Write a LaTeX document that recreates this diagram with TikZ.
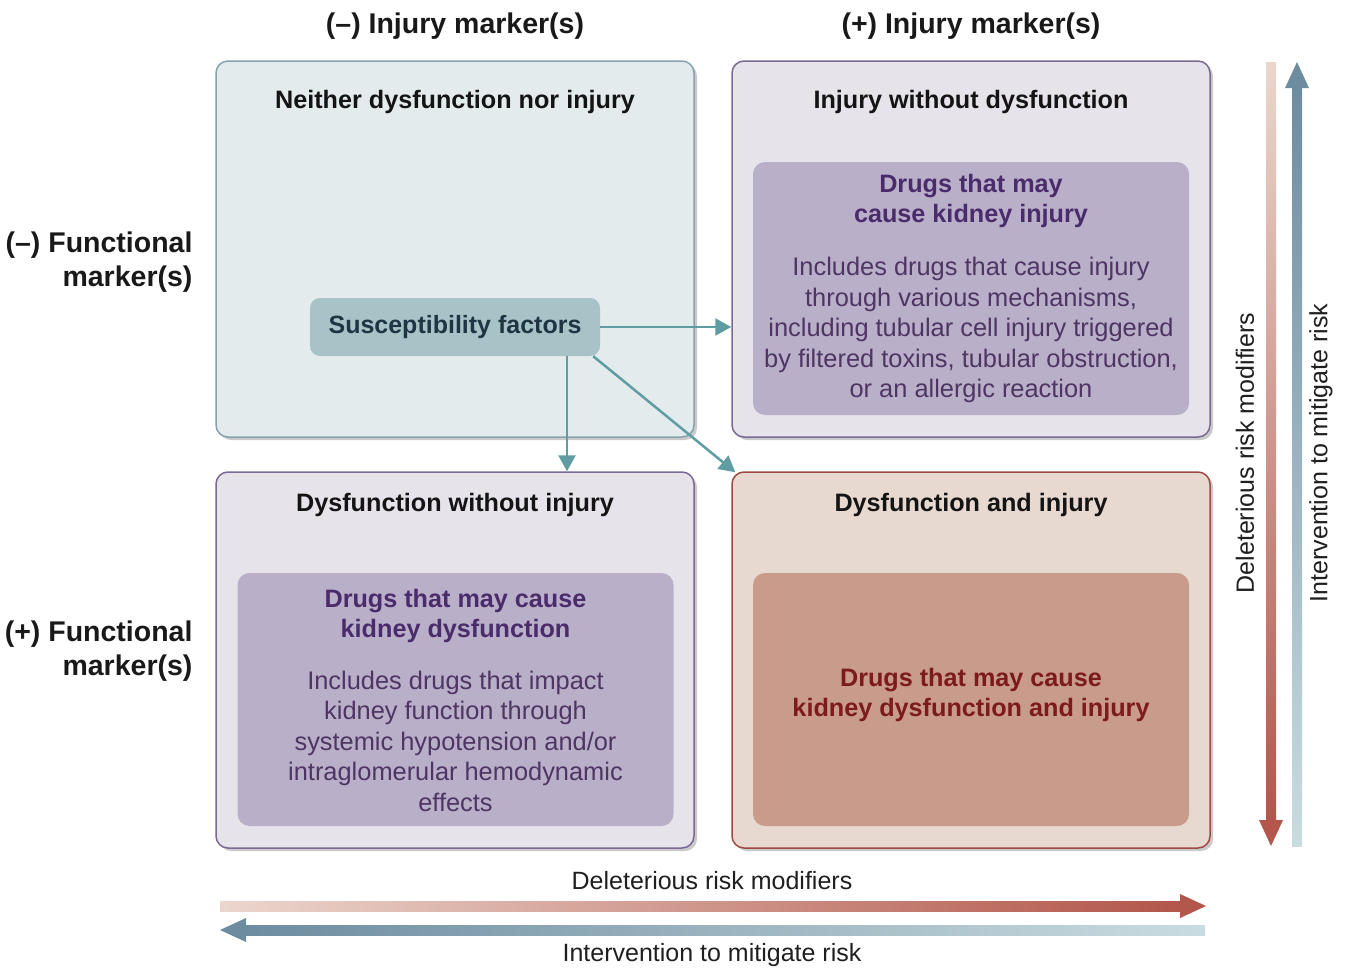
\documentclass[tikz,border=0pt]{standalone}
\usepackage{fontspec}
\setmainfont{Liberation Sans}
\usetikzlibrary{arrows.meta,shadows,calc}
\definecolor{tlfill}{HTML}{E4EBED}
\definecolor{tlborder}{HTML}{86A2AC}
\definecolor{purfill}{HTML}{E7E3EB}
\definecolor{purborder}{HTML}{7B6A93}
\definecolor{purinner}{HTML}{BAAFC8}
\definecolor{purtitle}{HTML}{4A2B6B}
\definecolor{purtext}{HTML}{4E3563}
\definecolor{brfill}{HTML}{E8D9D0}
\definecolor{brborder}{HTML}{9E4A43}
\definecolor{brinner}{HTML}{C89B8B}
\definecolor{brtext}{HTML}{7D1A1B}
\definecolor{suscfill}{HTML}{A8C3C7}
\definecolor{susctext}{HTML}{1F3544}
\definecolor{teal}{HTML}{5F9DA3}
\definecolor{redlight}{HTML}{EBD6CD}
\definecolor{reddark}{HTML}{B3564B}
\definecolor{bluelight}{HTML}{C9DCE0}
\definecolor{bluedark}{HTML}{6E8CA0}
\begin{document}
\begin{tikzpicture}[x=1pt,y=-1pt,
  quad/.style={draw, line width=1.5pt, rounded corners=12pt, minimum width=478pt, minimum height=376pt, inner sep=0pt,
    drop shadow={shadow xshift=3pt, shadow yshift=-3pt, opacity=0.35, fill=black!60}},
  innerbox/.style={rounded corners=12pt, minimum width=436pt, minimum height=253pt, inner sep=0pt},
  hdr/.style={font=\fontsize{28.5}{34}\selectfont\bfseries, text=black!90},
  qtitle/.style={font=\fontsize{25.2}{30}\selectfont\bfseries, text=black!92},
  ititle/.style={font=\fontsize{25.2}{30}\selectfont\bfseries, align=center},
  ibody/.style={font=\fontsize{25.4}{30.5}\selectfont, align=center},
  side/.style={font=\fontsize{25}{28}\selectfont, text=black!88},
  conn/.style={draw=teal, line width=2.5pt, -{Triangle[length=16pt,width=17pt]}}
]
\useasboundingbox (0,0) rectangle (1351,969);

% column headers
\node[hdr] (h1) at (455,26) {(–) Injury marker(s)};
\node[hdr] (h2) at (971,26) {(+) Injury marker(s)};
% row labels
\node[hdr, align=right, anchor=east] (r1) at (196,262) {(–) Functional\\marker(s)};
\node[hdr, align=right, anchor=east] (r2) at (196,651) {(+) Functional\\marker(s)};

% quadrants
\node[quad, fill=tlfill, draw=tlborder] (tl) at (455,249) {};
\node[quad, fill=purfill, draw=purborder] (tr) at (971,249) {};
\node[quad, fill=purfill, draw=purborder] (bl) at (455,660) {};
\node[quad, fill=brfill, draw=brborder] (br) at (971,660) {};

\node[qtitle] (t1) at (455,102) {Neither dysfunction nor injury};
\node[qtitle] (t2) at (971,102) {Injury without dysfunction};
\node[qtitle] (t3) at (455,505) {Dysfunction without injury};
\node[qtitle] (t4) at (971,505) {Dysfunction and injury};

% inner boxes
\node[innerbox, fill=purinner] (itr) at (971,288.5) {};
\node[innerbox, fill=purinner] (ibl) at (455.5,699.5) {};
\node[innerbox, fill=brinner] (ibr) at (971,699.5) {};

\node[ititle, text=purtitle] (itr1) at (971,201) {Drugs that may\\cause kidney injury};
\node[ibody, text=purtext] (itr2) at (971,330) {Includes drugs that cause injury\\through various mechanisms,\\including tubular cell injury triggered\\by filtered toxins, tubular obstruction,\\or an allergic reaction};

\node[ititle, text=purtitle] (ibl1) at (455.5,616) {Drugs that may cause\\kidney dysfunction};
\node[ibody, text=purtext] (ibl2) at (455.5,741) {Includes drugs that impact\\kidney function through\\systemic hypotension and/or\\intraglomerular hemodynamic\\effects};

\node[ititle, text=brtext] (ibr1) at (971,695) {Drugs that may cause\\kidney dysfunction and injury};

% susceptibility
\node[fill=suscfill, rounded corners=10pt, minimum width=290pt, minimum height=58pt, inner sep=0pt,
  font=\fontsize{25}{28}\selectfont\bfseries, text=susctext] (sus) at (455,327) {Susceptibility factors};

\draw[conn] (sus.east) -- (sus.east -| tr.west);
\coordinate (sd) at ($(sus.south)+(112,0)$);
\draw[conn] (sd) -- (sd |- bl.north);
\coordinate (sdg) at ($(sus.south east)+(-7,0)$);
\draw[conn] (sdg) -- ($(br.north west)+(4,1)$);

% right vertical gradient arrows
\shade[top color=redlight, bottom color=reddark] (1266,62) rectangle (1276,822);
\fill[reddark] (1259,820) -- (1283,820) -- (1271,846) -- cycle;
\shade[top color=bluedark, bottom color=bluelight] (1292,86) rectangle (1302,846);
\fill[bluedark] (1285,88) -- (1309,88) -- (1297,62) -- cycle;
\node[side, rotate=90] (sv1) at (1245,453) {Deleterious risk modifiers};
\node[side, rotate=90] (sv2) at (1321,453) {Intervention to mitigate risk};

% bottom horizontal gradient arrows
\shade[left color=redlight, right color=reddark] (220,901) rectangle (1182,911);
\fill[reddark] (1180,894) -- (1180,918) -- (1206,906) -- cycle;
\shade[left color=bluedark, right color=bluelight] (244,925) rectangle (1205,935);
\fill[bluedark] (246,918) -- (246,942) -- (220,930) -- cycle;
\node[side] (sh1) at (712,881) {Deleterious risk modifiers};
\node[side] (sh2) at (712,955) {Intervention to mitigate risk};
\end{tikzpicture}
\end{document}
